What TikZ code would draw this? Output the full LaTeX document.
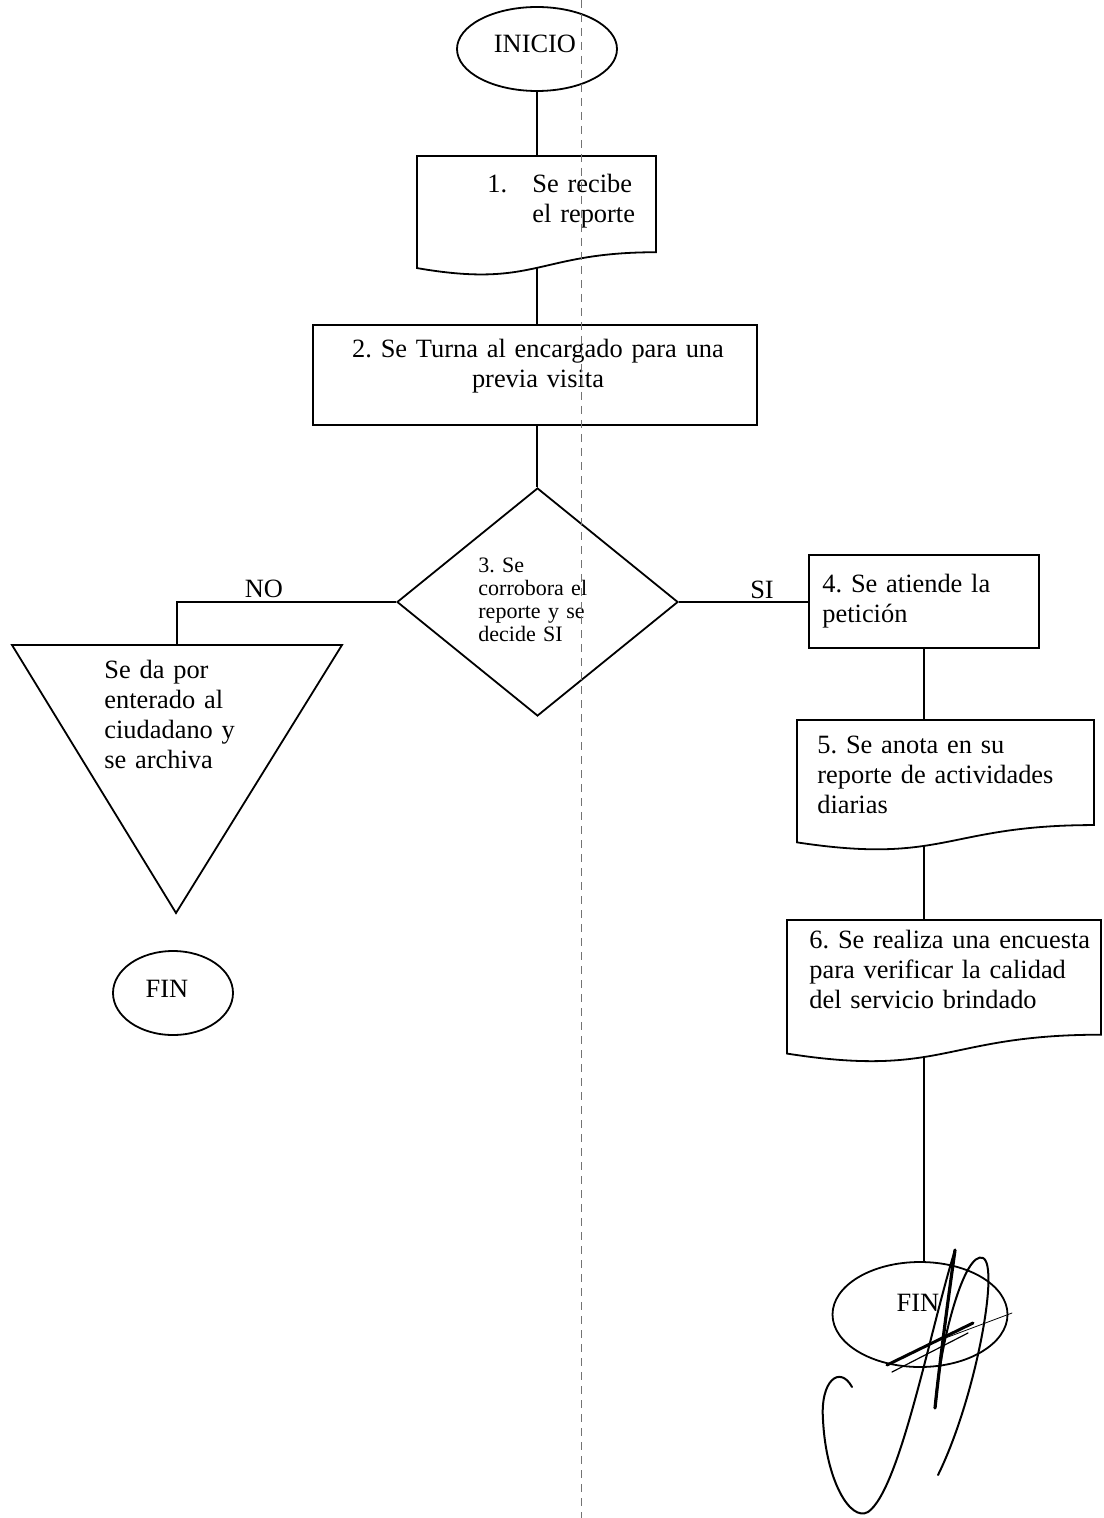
\documentclass[tikz,border=0pt]{standalone}
\usepackage{fontspec}
\setmainfont{Liberation Serif}
\frenchspacing
\usetikzlibrary{shapes.geometric}
\pgfdeclarelayer{bg}
\pgfsetlayers{bg,main}
\tikzset{
  ln/.style={line width=0.9pt, draw=black},
  term/.style={ellipse, draw=black, line width=0.9pt, fill=white, inner sep=0pt},
  procbox/.style={rectangle, draw=black, line width=0.9pt, fill=white, inner sep=0pt},
  decis/.style={diamond, draw=black, line width=0.9pt, fill=white, inner sep=0pt},
  docarea/.style={rectangle, inner sep=0pt, anchor=north west},
  txt/.style={font=\fontsize{13.2}{15}\selectfont\frenchspacing, inner sep=0pt, anchor=base west, align=left},
  smalltxt/.style={font=\fontsize{11}{11.6}\selectfont\frenchspacing, inner sep=0pt, anchor=base west, align=left},
  lbl/.style={font=\fontsize{13.2}{15}\selectfont, inner sep=0pt, anchor=base},
  sig/.style={line width=1pt, black, line cap=round, line join=round},
}
\newcommand\docshape[5]{%
  \node[docarea, minimum width={(#3-#2)*0.5pt}, minimum height={#5*0.5pt}] (#1) at (#2,#4) {};
  \draw[ln, fill=white] (#2,#4) -- (#3,#4) -- (#3,{#4+0.802*#5})
    .. controls ({(#2+#3)/2},{#4+0.802*#5}) and ({(#2+#3)/2},{#4+1.107*#5}) .. (#2,{#4+0.934*#5}) -- cycle;%
}
\begin{document}
\begin{tikzpicture}[x=0.5pt,y=-0.5pt]
\useasboundingbox (0,0) rectangle (1103,1518);

% ---- shapes ----
\node[term, minimum width=80pt, minimum height=42pt] (start) at (537,49) {};
\docshape{d1}{417}{656}{156}{120}
\node[procbox, minimum width=222pt, minimum height=50pt] (b2) at (535,375) {};
\node[decis, minimum width=140.5pt, minimum height=114pt] (dia) at (537.5,602) {};
\coordinate (triTop) at (177,645);
\draw[ln, fill=white] (12,645) -- (342,645) -- (176,913) -- cycle;
\node[term, minimum width=60pt, minimum height=42pt] (fin1) at (173,993) {};
\node[procbox, minimum width=115pt, minimum height=46.5pt] (b4) at (924,601.5) {};
\docshape{d5}{797}{1094}{720}{131}
\docshape{d6}{787}{1101}{920}{143}
\node[term, minimum width=87.5pt, minimum height=52.5pt] (fin2) at (920,1314.5) {};

% ---- connectors ----
\begin{pgfonlayer}{bg}
\draw[ln] (start.south) -- (start.south |- d1.north);
\draw[ln] (start.south |- d1.center) -- (start.south |- b2.north);
\draw[ln] (start.south |- b2.south) -- (start.south |- dia.north);
\draw[ln] (dia.west) -| (triTop);
\draw[ln] (dia.east) -- (dia.east -| b4.west);
\draw[ln] (b4.south) -- (b4.south |- d5.north);
\draw[ln] (b4.south |- d5.center) -- (b4.south |- d6.north);
\draw[ln] (b4.south |- d6.center) -- (b4.south |- fin2.north);
\end{pgfonlayer}

% ---- texts ----
\node[lbl] (tStart) at (535,53) {INICIO};
\node[txt, text width=85pt] (t1) at (487,193) {\makebox[22.5pt][l]{1.}Se recibe\\\hspace*{22.5pt}el reporte};
\node[txt, anchor=base, align=center, text width=215pt] (t2) at (538,358) {2. Se Turna al encargado para una\\previa visita};
\node[smalltxt, text width=62pt] (t3) at (478,572) {3. Se\\corrobora el\\reporte y se\\decide SI};
\node[lbl] (tNo) at (264,597) {NO};
\node[lbl] (tSi) at (762,598) {SI};
\node[txt, text width=90pt] (tTri) at (104,678) {Se da por\\enterado al\\ciudadano y\\se archiva};
\node[lbl] (tFin1) at (167,997) {FIN};
\node[txt, text width=105pt] (t4) at (822,592) {4. Se atiende la\\petición};
\node[txt, text width=140pt] (t5) at (817,753) {5. Se anota en su\\reporte de actividades\\diarias};
\node[txt, text width=150pt] (t6) at (809,948) {6. Se realiza una encuesta\\para verificar la calidad\\del servicio brindado};
\node[lbl] (tFin2) at (918,1311) {FIN};

% ---- signature ----
\draw[sig] (852,1387) .. controls (840,1365) and (820,1380) .. (823,1420)
  .. controls (826,1480) and (850,1522) .. (868,1512)
  .. controls (900,1490) and (930,1330) .. (955,1250);
\draw[sig, line width=1.6pt] (955,1250) .. controls (948,1300) and (940,1360) .. (935,1408);
\draw[sig] (935,1408) .. controls (940,1340) and (965,1250) .. (983,1258)
  .. controls (1000,1266) and (975,1400) .. (938,1475);
\draw[sig, line width=1.5pt] (887,1365) -- (973,1323);
\draw[sig, line width=0.6pt] (892,1372) -- (968,1333);
\draw[sig, line width=0.4pt] (940,1340) -- (1012,1313);

% ---- scan fold line ----
\draw[black!55, line width=0.3pt, dash pattern=on 4pt off 3pt] (581,0) -- (581,1518);
\end{tikzpicture}
\end{document}
